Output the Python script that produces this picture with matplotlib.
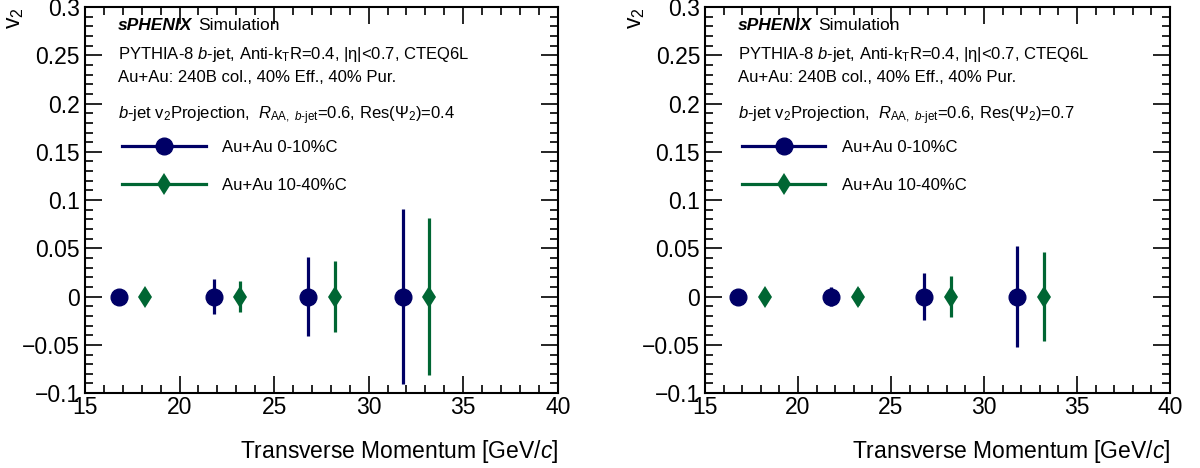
import numpy as np
import matplotlib
matplotlib.use('Agg')
import matplotlib.pyplot as plt
from matplotlib.lines import Line2D
from matplotlib.ticker import MultipleLocator, FuncFormatter
from matplotlib.transforms import offset_copy

plt.rcParams['font.family'] = ['Liberation Sans', 'DejaVu Sans']
plt.rcParams['mathtext.fontset'] = 'custom'
plt.rcParams['mathtext.rm'] = 'Liberation Sans'
plt.rcParams['mathtext.it'] = 'Liberation Sans:italic'
plt.rcParams['mathtext.bf'] = 'Liberation Sans:bold'

# data
pt_central = [16.8, 21.8, 26.8, 31.8]
pt_mid = [18.2, 23.2, 28.2, 33.2]
v2_central = [0, 0, 0, 0]
v2_mid = [0, 0, 0, 0]
# errors for Res(Psi2)=0.4 and 0.7
err_central_04 = [0.005, 0.018, 0.041, 0.091]
err_mid_04 = [0.004, 0.016, 0.037, 0.081]
err_central_07 = [0.003, 0.010, 0.024, 0.052]
err_mid_07 = [0.002, 0.009, 0.021, 0.046]
resolutions = ['0.4', '0.7']
labels = ['Au+Au 0-10%C', 'Au+Au 10-40%C']

blue = '#000066'
green = '#006633'
fs = 12

fig = plt.figure(figsize=(12, 4.68), dpi=100)
axes = [fig.add_axes([0.0708, 0.160, 0.394, 0.825]),
        fig.add_axes([0.5875, 0.160, 0.3875, 0.825])]
errs = [(err_central_04, err_mid_04), (err_central_07, err_mid_07)]

for ax, (ec, em), res in zip(axes, errs, resolutions):
    ax.errorbar(pt_central, v2_central, yerr=ec, fmt='o', color=blue,
                ms=12, elinewidth=2.3, capsize=0, zorder=3)
    ax.errorbar(pt_mid, v2_mid, yerr=em, fmt='d', color=green,
                ms=11.5, mew=0, elinewidth=2.3, capsize=0, zorder=3)
    ax.set_xlim(15, 40)
    ax.set_ylim(-0.1, 0.3)
    ax.xaxis.set_major_locator(MultipleLocator(5))
    ax.xaxis.set_minor_locator(MultipleLocator(1))
    ax.yaxis.set_major_locator(MultipleLocator(0.05))
    ax.yaxis.set_minor_locator(MultipleLocator(0.01))
    ax.yaxis.set_major_formatter(FuncFormatter(lambda v, p: ('%g' % round(v, 3)).replace('-', '\u2212')))
    ax.tick_params(which='both', direction='in', top=True, right=True, labelsize=16.5, width=1.2)
    ax.tick_params(which='major', length=12)
    ax.tick_params(which='minor', length=6)
    ax.tick_params(axis='x', pad=2)
    for s in ax.spines.values():
        s.set_linewidth(1.5)
    ax.set_ylabel('v$_2$', fontsize=16.5, loc='top')
    ax.yaxis.set_label_coords(-0.125, 1.0)
    ax.set_xlabel('Transverse Momentum [GeV/$c$]', fontsize=16.5, loc='right')
    ax.xaxis.set_label_coords(1.0, -0.115)

    tx = 0.07
    t1 = ax.text(tx, 0.953, 'sPHENIX', fontsize=12.5, fontweight='bold',
                 fontstyle='italic', va='center', transform=ax.transAxes)
    fig.canvas.draw()
    w = t1.get_window_extent().width
    ax.text(tx, 0.953, 'Simulation', fontsize=12.5, va='center',
            transform=offset_copy(ax.transAxes, fig=fig, x=w + 6, y=0, units='dots'))
    ax.text(tx, 0.878, r'PYTHIA-8 $b$-jet, Anti-k$_{\mathrm{T}}$R=0.4, |η|<0.7, CTEQ6L',
            fontsize=fs, va='center', transform=ax.transAxes)
    ax.text(tx, 0.818, 'Au+Au: 240B col., 40% Eff., 40% Pur.',
            fontsize=fs, va='center', transform=ax.transAxes)
    ax.text(tx, 0.718, r'$b$-jet v$_2$Projection,  $R_{\mathrm{AA,}\ b\text{-jet}}$=0.6, Res($\Psi_2$)=' + res,
            fontsize=fs, va='center', transform=ax.transAxes)

    handles = [Line2D([], [], color=blue, marker='o', ms=12, lw=2.3),
               Line2D([], [], color=green, marker='d', ms=11.5, mew=0, lw=2.3)]
    ax.legend(handles, labels, loc='upper left', bbox_to_anchor=(0.065, 0.672),
              frameon=False, fontsize=fs, handlelength=5.0, labelspacing=1.35,
              handletextpad=1.0, borderaxespad=0)

fig.savefig('out.png', dpi=100)
